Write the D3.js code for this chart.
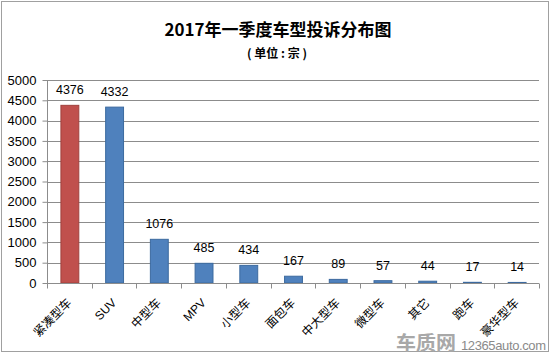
<!DOCTYPE html>
<html><head><meta charset="utf-8">
<script src="https://cdn.jsdelivr.net/npm/d3@7"></script>
<style>body{margin:0;background:#fff}svg{display:block}</style>
</head><body>
<svg id="c" width="550" height="355"></svg>
<script>
const categories = ["紧凑型车","SUV","中型车","MPV","小型车","面包车","中大型车","微型车","其它","跑车","豪华型车"];
const values = [4376,4332,1076,485,434,167,89,57,44,17,14];
const yTicks = [0,500,1000,1500,2000,2500,3000,3500,4000,4500,5000];
const title = "2017年一季度车型投诉分布图";
const subtitle = "( 单位 : 宗 )";

const svg = d3.select("#c");
const font = "'Noto Sans CJK SC','Microsoft YaHei',sans-serif";
const latin = "'Liberation Sans',Arial,sans-serif";
svg.append("rect").attr("x",1.5).attr("y",1.5).attr("width",547).attr("height",350)
  .attr("fill","#fff").attr("stroke","#a0a0a0");

const m = {l:47, r:539, t:80, b:283};
const x = d3.scaleBand().domain(categories).range([m.l,m.r]).paddingInner(0.6).paddingOuter(0.3);
const y = d3.scaleLinear().domain([0,5000]).range([m.b,m.t]);

svg.append("text").attr("x",278).attr("y",36).attr("text-anchor","middle")
  .attr("font-family",font).attr("font-weight","bold").attr("font-size",17).attr("fill","#000").text(title);
svg.append("text").attr("x",277).attr("y",58).attr("text-anchor","middle")
  .attr("xml:space","preserve").style("white-space","pre")
  .attr("font-family",font).attr("font-weight","bold").attr("font-size",12).attr("fill","#000").text(subtitle);

// gridlines
svg.append("g").selectAll("line").data(yTicks.filter(d=>d>0)).join("line")
  .attr("x1",m.l).attr("x2",m.r).attr("y1",d=>Math.round(y(d))+0.5).attr("y2",d=>Math.round(y(d))+0.5)
  .attr("stroke","#8c8c8c").attr("stroke-width",1);

// y axis
const ya = svg.append("g").attr("transform",`translate(${m.l+0.5},0)`)
  .call(d3.axisLeft(y).tickValues(yTicks).tickSize(5).tickPadding(6).tickFormat(d3.format("d")));
ya.select(".domain").attr("stroke","#8c8c8c").attr("d",`M0,${m.t}V${m.b}`);
ya.selectAll(".tick line").attr("stroke","#8c8c8c");
ya.selectAll(".tick text").attr("font-family",latin).attr("font-size",13).attr("fill","#000");

// bars
svg.append("g").selectAll("rect").data(values).join("rect")
  .attr("x",(d,i)=>x(categories[i])+0.5).attr("width",x.bandwidth())
  .attr("y",d=>y(d)).attr("height",d=>m.b-y(d))
  .attr("fill",(d,i)=>i===0?"#C0504D":"#4F81BD")
  .attr("stroke",(d,i)=>i===0?"#A0403D":"#3C6A9F").attr("stroke-width",1);

// value labels
svg.append("g").selectAll("text").data(values).join("text")
  .attr("x",(d,i)=>x(categories[i])+x.bandwidth()/2+0.5).attr("y",d=>y(d)-11)
  .attr("text-anchor","middle").attr("font-family",latin).attr("font-size",12.5)
  .attr("fill","#000").text(d=>d);

// x axis
const xa = svg.append("g").attr("transform",`translate(0,${m.b+0.5})`);
xa.append("line").attr("x1",m.l).attr("x2",m.r).attr("stroke","#8c8c8c");
xa.selectAll("line.t").data(d3.range(categories.length+1)).join("line").attr("class","t")
  .attr("x1",i=>Math.round(m.l+i*(m.r-m.l)/categories.length)+0.5).attr("x2",i=>Math.round(m.l+i*(m.r-m.l)/categories.length)+0.5)
  .attr("y1",0).attr("y2",5).attr("stroke","#8c8c8c");
xa.selectAll("text").data(categories).join("text")
  .attr("transform",d=>`translate(${x(d)+x.bandwidth()/2+3},20) rotate(-45)`)
  .attr("text-anchor","end")
  .attr("font-family",d=>/^[A-Z]+$/.test(d)?latin:font).attr("font-size",12).attr("fill","#000").text(d=>d);

// watermark
svg.append("text").attr("x",396).attr("y",350).attr("font-family",font).attr("font-weight","bold")
  .attr("font-size",19).attr("fill","#a8a8a8").attr("textLength",60).attr("lengthAdjust","spacingAndGlyphs").text("车质网");
svg.append("text").attr("x",461).attr("y",350).attr("font-family",latin)
  .attr("font-size",13).attr("fill","#8a8a8a").attr("textLength",85).text("12365auto.com");
</script>
</body></html>
